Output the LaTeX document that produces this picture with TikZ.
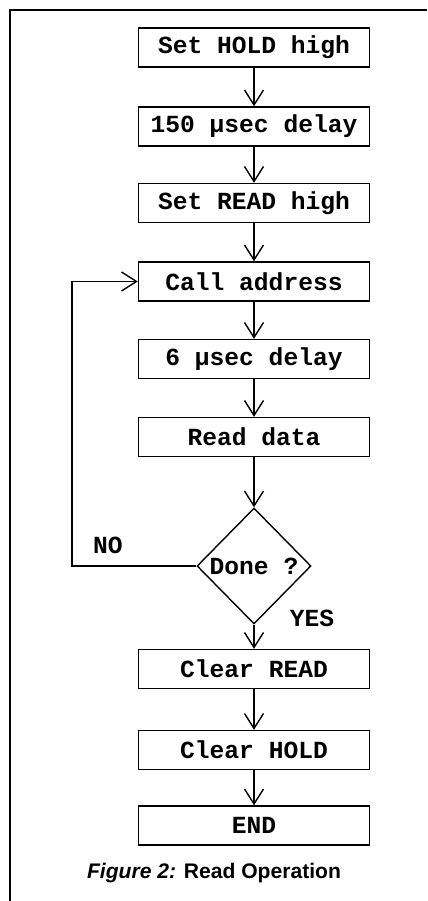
\documentclass[tikz,border=0pt]{standalone}
\usepackage{fontspec}
\setmainfont{Liberation Sans}
\setsansfont{Liberation Sans}
\setmonofont{Liberation Mono}
\usetikzlibrary{shapes.geometric,arrows.meta}

\begin{document}
\begin{tikzpicture}[
		x=0.02cm, y=-0.02cm,
		font=\fontsize{14}{16}\selectfont\ttfamily\bfseries,
		stepbox/.style={draw, thick, minimum width=4.62cm,
			minimum height=0.78cm, inner sep=0pt, align=center},
		test/.style={draw, thick, diamond, minimum width=2.28cm,
			minimum height=2.32cm, inner sep=0pt},
		arr/.style={-{Straight Barb[length=0.3cm, width=0.38cm]}, thick},
	]
		\useasboundingbox (0,0) rectangle (427,901);

		% Rahmen links und oben
		\draw[thick] (10,901) -- (10,10) -- (427,10);

		% Schritte mit absoluten Koordinaten (top-down gestapelt)
		\node[stepbox] (hold) at (254,47.5) {Set HOLD high};
		\node[stepbox] (wait) at (254,126.5) {150 µsec delay};
		\node[stepbox] (read) at (254,203) {Set READ high};
		\node[stepbox] (call) at (254,281.5) {Call address};
		\node[stepbox] (pause) at (254,359) {6 µsec delay};
		\node[stepbox] (data) at (254,437) {Read data};
		\node[test] (done) at (254,566) {Done ?};
		\node[stepbox] (clrread) at (254,669) {Clear READ};
		\node[stepbox] (clrhold) at (254,750) {Clear HOLD};
		\node[stepbox] (end) at (254,825.5) {END};

		% Beschriftungen der Verzweigung
		\node (no) at (108,545) {NO};
		\node (yes) at (312,618) {YES};
		\coordinate (loop) at (72,420);

		% Verbindungen zwischen den Schritten
		\draw[arr] (hold) -- (wait);
		\draw[arr] (wait) -- (read);
		\draw[arr] (read) -- (call);
		\draw[arr] (call) -- (pause);
		\draw[arr] (pause) -- (data);
		\draw[arr] (data) -- (done);
		\draw[arr] (done) -- (clrread);
		\draw[arr] (clrread) -- (clrhold);
		\draw[arr] (clrhold) -- (end);
		\draw[arr] (done.west) -| (loop) |- (call.west);

		% Bildunterschrift
		\node[font=\fontsize{12}{14}\selectfont\sffamily\bfseries] (caption) at (214,873)
			{\textit{Figure 2:} Read Operation};
	\end{tikzpicture}
\end{document}
